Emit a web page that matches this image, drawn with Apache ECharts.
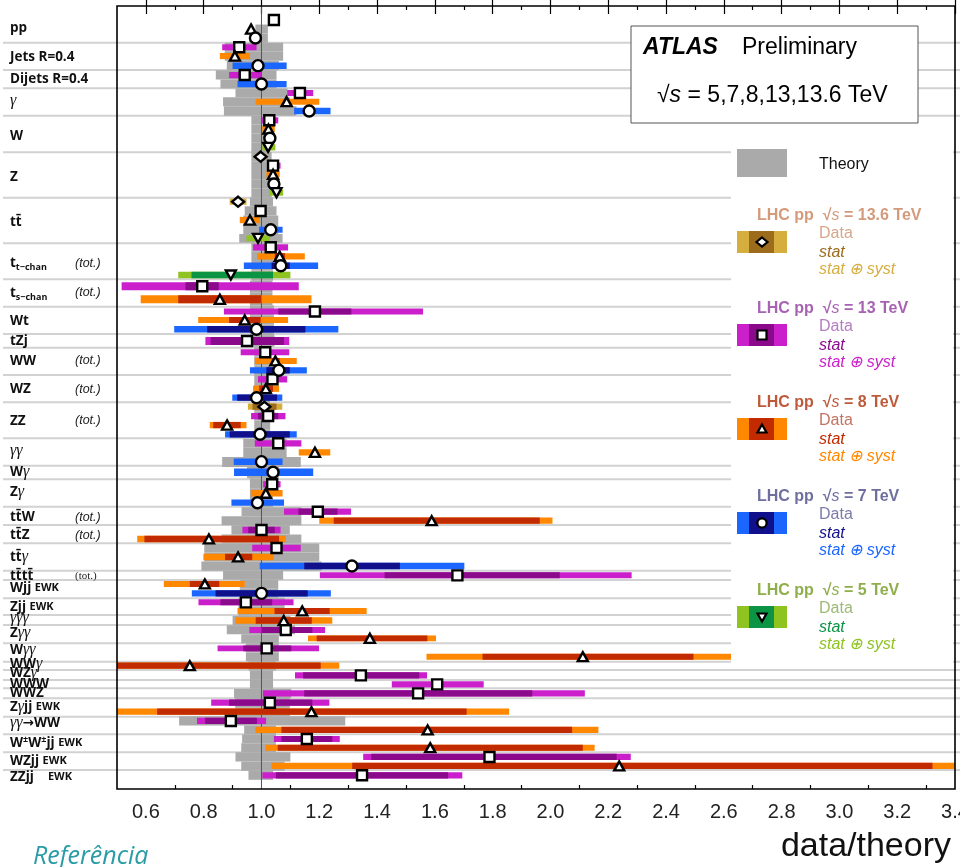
<!DOCTYPE html>
<html><head><meta charset="utf-8">
<script src="https://cdn.jsdelivr.net/npm/echarts@6/dist/echarts.min.js"></script>
<style>html,body{margin:0;padding:0;background:#fff}#c{width:960px;height:867px}</style>
</head><body><div id="c"></div>
<script>
// ---------------- DATA ----------------
const energies = ['13.6', '13', '8', '7', '5'];           // sqrt(s) in TeV
// row position (in row units, top = 0) of every measurement
const rowPos = [
  1.56, 2.56, 3.56, 4.59, 5.56, 6.63, 7.67, 8.67, 9.67, 10.63,
  11.67, 12.70, 13.67, 14.70, 15.70, 16.74, 17.74, 18.70, 19.78, 20.74,
  21.74, 22.78, 23.78, 24.86, 25.81, 26.81, 27.81, 28.86, 29.89, 31.14,
  32.59, 33.94, 34.89, 35.92, 37.22, 38.48, 39.44, 40.48, 41.48, 42.52,
  43.52, 44.52, 45.56, 46.56, 47.59, 48.59, 49.59, 50.63, 51.81, 53.14,
  54.14, 55.19, 56.19, 57.19, 58.22, 59.22, 60.22, 61.22, 62.22, 63.26,
  64.22, 65.26, 66.26, 67.22, 68.28, 69.33, 70.26, 71.37, 72.30, 73.30,
  74.37, 75.37, 76.37, 77.41, 78.41, 79.44, 80.44, 81.44, 82.41, 83.44,
  84.44, 85.48];
// index into energies
const rowEnergy = [
  1, 2, 3, 1, 2, 3, 1, 3, 1, 2,
  3, 1, 2, 3, 4, 0, 1, 2, 3, 4,
  0, 1, 2, 3, 4, 1, 2, 3, 4, 1,
  2, 1, 2, 3, 1, 1, 2, 3, 1, 2,
  3, 0, 1, 2, 3, 1, 2, 3, 3, 1,
  2, 3, 1, 2, 1, 2, 1, 2, 3, 1,
  2, 3, 1, 2, 2, 1, 2, 1, 2, 2,
  1, 1, 1, 1, 2, 1, 2, 1, 2, 1,
  2, 1];
// data / theory central values
const rowValue = [
  1.043, 0.964, 0.979, 0.923, 0.908, 0.988, 0.942, 1.000, 1.133, 1.087,
  1.165, 1.027, 1.024, 1.029, 1.023, 0.997, 1.040, 1.040, 1.043, 1.052,
  0.919, 0.997, 0.960, 1.032, 0.988, 1.032, 1.063, 1.067, 0.894, 0.795,
  0.856, 1.185, 0.942, 0.983, 0.950, 1.013, 1.048, 1.060, 1.038, 1.015,
  0.983, 1.010, 1.023, 0.881, 0.995, 1.058, 1.185, 1.000, 1.040, 1.037,
  1.015, 0.986, 1.195, 1.589, 1.000, 0.818, 1.052, 0.919, 1.313, 1.678,
  0.804, 1.000, 0.946, 1.141, 1.077, 1.084, 1.375, 1.018, 2.112, 0.752,
  1.344, 1.608, 1.542, 1.029, 1.173, 0.894, 1.575, 1.157, 1.584, 1.789,
  2.238, 1.348];
// stat (+) syst interval
const totLo = [
  null, null, null, 0.864, 0.856, 0.900, 0.888, 0.917, 1.089, 0.980,
  1.113, 1.000, 1.003, 1.012, 1.003, 0.977, 1.020, 1.017, 1.023, 1.027,
  0.890, 0.988, 0.925, 0.992, 0.948, 0.971, 0.985, 0.939, 0.712, 0.516,
  0.582, 0.870, 0.781, 0.698, 0.806, 0.928, 0.977, 0.960, 0.988, 0.971,
  0.899, 0.953, 0.964, 0.821, 0.874, 0.977, 1.129, 0.904, 0.905, 1.006,
  0.963, 0.896, 1.078, 1.200, 0.934, 0.570, 0.968, 0.799, 0.994, 1.202,
  0.662, 0.759, 0.782, 0.917, 0.910, 0.958, 1.161, 0.848, 1.571, 0.450,
  1.116, 1.451, 1.005, 0.826, 0.480, 0.777, 0.979, 1.043, 1.014, 1.352,
  1.035, 1.003];
const totHi = [
  null, null, null, 0.983, 0.960, 1.087, 1.000, 1.087, 1.179, 1.200,
  1.239, 1.058, 1.046, 1.046, 1.048, 1.017, 1.066, 1.063, 1.063, 1.075,
  0.948, 1.008, 0.994, 1.073, 1.029, 1.092, 1.150, 1.196, 1.100, 1.129,
  1.173, 1.559, 1.092, 1.266, 1.096, 1.096, 1.122, 1.157, 1.089, 1.061,
  1.072, 1.072, 1.083, 0.948, 1.122, 1.138, 1.238, 1.073, 1.179, 1.066,
  1.073, 1.078, 1.310, 2.007, 1.066, 1.084, 1.136, 1.042, 1.702, 2.281,
  0.942, 1.240, 1.111, 1.364, 1.245, 1.220, 1.604, 1.199, 2.634, 1.269,
  1.573, 1.769, 2.119, 1.235, 1.857, 1.016, 2.166, 1.271, 2.153, 2.278,
  3.450, 1.695];
// stat-only interval (null where not visible)
const statLo = [
  null, null, null, null, null, null, null, null, null, null,
  null, null, null, null, null, null, null, null, null, null,
  null, null, null, null, null, null, 1.046, 1.035, 0.758, 0.737,
  0.712, 1.058, 0.888, 0.812, 0.824, null, 1.035, 1.017, null, 0.992,
  0.916, 0.969, 0.988, 0.833, 0.890, null, null, null, null, null,
  null, null, 1.128, 1.250, 0.954, 0.595, null, 0.874, 1.148, 1.426,
  0.752, 0.841, 0.858, 1.045, 0.980, 1.000, 1.191, 0.937, 1.765, 0.450,
  1.144, null, 1.148, 0.888, 0.639, 0.805, 1.069, 1.069, 1.056, 1.380,
  1.314, 1.050];
const statHi = [
  null, null, null, null, null, null, null, null, null, null,
  null, null, null, null, null, null, null, null, null, null,
  null, null, null, null, null, null, 1.081, 1.098, 1.040, 0.852,
  1.000, 1.311, 0.997, 1.152, 1.078, null, 1.063, 1.098, null, 1.040,
  1.054, 1.052, 1.058, 0.928, 1.098, null, null, null, null, null,
  null, null, 1.263, 1.963, 1.046, 1.061, null, 0.968, 1.479, 2.032,
  0.854, 1.160, 1.037, 1.236, 1.174, 1.176, 1.574, 1.103, 2.495, 1.205,
  1.546, null, 1.937, 1.176, 1.710, 0.984, 2.075, 1.245, 2.112, 2.229,
  3.322, 1.646];
// theory uncertainty band
const theoryLo = [
  null, 0.979, 0.979, 0.873, 0.873, 0.880, 0.842, 0.858, 0.910, 0.867,
  0.870, 0.965, 0.965, 0.965, 0.965, 0.965, 0.965, 0.965, 0.965, 0.965,
  0.960, 0.942, 0.937, 0.937, 0.923, 0.965, 0.965, 0.965, 0.965, 0.960,
  0.960, 0.960, 0.960, 0.960, 0.955, 0.975, 0.975, 0.975, 0.975, 0.975,
  0.975, 0.975, 0.975, 0.975, 0.975, 0.937, 0.937, 0.864, 0.950, 0.960,
  0.960, 0.960, 0.931, 0.862, 0.896, 0.862, 0.802, 0.802, 0.792, 0.867,
  0.925, 0.925, 0.920, 0.920, 0.900, 0.880, 0.930, 0.946, 0.946, 0.955,
  0.960, 0.960, 0.905, 0.909, 0.909, 0.715, 0.940, 0.933, 0.930, 0.910,
  0.930, 0.955];
const theoryHi = [
  null, 1.022, 1.022, 1.075, 1.075, 1.060, 1.052, 1.052, 1.090, 1.098,
  1.121, 1.030, 1.030, 1.030, 1.030, 1.035, 1.035, 1.035, 1.035, 1.035,
  1.040, 1.052, 1.058, 1.058, 1.073, 1.040, 1.040, 1.040, 1.040, 1.038,
  1.038, 1.043, 1.043, 1.043, 1.045, 1.030, 1.030, 1.030, 1.030, 1.030,
  1.030, 1.030, 1.030, 1.030, 1.030, 1.087, 1.087, 1.136, 1.060, 1.040,
  1.040, 1.040, 1.138, 1.138, 1.098, 1.138, 1.200, 1.200, 1.208, 1.075,
  1.058, 1.058, 1.080, 1.080, 1.100, 1.116, 1.060, 1.060, 1.060, 1.050,
  1.040, 1.040, 1.103, 1.098, 1.098, 1.290, 1.050, 1.050, 1.050, 1.100,
  1.080, 1.040];
// process labels and their row positions
const groupLabels = [
  'pp', 'Jets R=0.4', 'Dijets R=0.4', '{g|γ}', 'W', 'Z', 'tt\u0304',
  't{sub|t\u2212chan}', 't{sub|s\u2212chan}', 'Wt', 'tZj', 'WW', 'WZ', 'ZZ',
  '{g|γγ}', 'W{g|γ}', 'Z{g|γ}', 'tt\u0304W', 'tt\u0304Z', 'tt\u0304{g|γ}', 'tt\u0304tt\u0304',
  'Wjj {s|EWK}', 'Zjj {s|EWK}', '{g|γγγ}', 'Z{g|γγ}', 'W{g|γγ}', 'WW{g|γ}', 'WZ{g|γ}',
  'WWW', 'WWZ', 'Z{g|γ}jj {s|EWK}', '{g|γγ}\u2192WW', 'W{sup|±}W{sup|±}jj {s|EWK}',
  'WZjj {s|EWK}', 'ZZjj    {s|EWK}'];
const labelPos = [
  2.44, 5.67, 8.11, 10.56, 14.44, 19.0, 24.0, 28.56, 31.89, 35.0,
  37.22, 39.44, 42.56, 46.11, 49.44, 51.78, 54.0, 56.78, 58.78, 61.22,
  63.33, 64.67, 66.78, 68.0, 69.67, 71.56, 73.11, 74.11, 75.33, 76.33,
  77.89, 79.67, 81.89, 83.89, 85.67];
const labelNote = [
  '', '', '', '', '', '', '', '(tot.)', '(tot.)', '', '', '(tot.)', '(tot.)', '(tot.)',
  '', '', '', '(tot.)', '(tot.)', '', '(tot.)', '', '', '', '', '', '', '', '', '', '', '', '', '', ''];
// horizontal separators between processes
const separatorPos = [
  4.08, 7.11, 9.14, 12.19, 16.26, 21.30, 26.37, 30.37, 33.41, 36.44,
  37.97, 41.00, 44.03, 48.03, 51.08, 52.59, 55.63, 57.67, 59.70, 62.74,
  63.78, 65.81, 67.67, 68.78, 70.81, 72.86, 73.78, 74.89, 75.81, 76.92,
  78.97, 80.92, 82.92, 84.89];
const majorTicks = [0.6, 0.8, 1.0, 1.2, 1.4, 1.6, 1.8, 2.0, 2.2, 2.4, 2.6, 2.8, 3.0, 3.2, 3.4];
const minorTicks = [0.7, 0.9, 1.1, 1.3, 1.5, 1.7, 1.9, 2.1, 2.3, 2.5, 2.7, 2.9, 3.1, 3.3];

// ---------------- STYLE ----------------
const X_MIN = 0.5, X_MAX = 3.4, Y_MAX = 87;
const GRID = {left: 117, top: 6, right: 5, bottom: 78};
const SANS = '"Liberation Sans", Arial, sans-serif';
const LBL = '"Open Sans", "DejaVu Sans", sans-serif';
const totColor  = ['#d6ae3e', '#cc1fcc', '#ff8800', '#1a66ff', '#8fc320'];
const statColor = ['#9c6b1b', '#8b0a8b', '#c22a00', '#10108c', '#0b9444'];
const titleColor = ['#d49a7c', '#a862b4', '#bd5a3c', '#6f6f9f', '#8fae4c'];
const dataTextColor = ['#d5a68a', '#b47cc2', '#c27462', '#7b7bab', '#9db975'];
const symbols = ['diamond', 'rect', 'triangle', 'circle', 'triangle'];
const symbolSizes = [[12, 10], 10, [10, 9], 11, [10, 9]];
const symbolRot = [0, 0, 0, 0, 180];
const N = rowPos.length;

function clipToGrid(shape, params) {
  const c = params.coordSys;
  return echarts.graphic.clipRectByRect(shape, {x: c.x, y: c.y, width: c.width, height: c.height});
}
function neighbourGap(i) {
  const up = i > 0 ? rowPos[i] - rowPos[i - 1] : 1;
  const dn = i < N - 1 ? rowPos[i + 1] - rowPos[i] : 1;
  return [up, dn];
}

const chart = echarts.init(document.getElementById('c'));

// theory bands
const theorySeries = {
  type: 'custom', z: 2, silent: true, xAxisIndex: 0,
  data: rowPos.map((p, i) => [i, p]).filter(d => theoryLo[d[0]] != null),
  renderItem(params, api) {
    const i = api.value(0);
    const g = neighbourGap(i);
    const up = Math.min(0.72, g[0] / 2), dn = Math.min(0.72, g[1] / 2);
    const a = api.coord([theoryLo[i], rowPos[i] - up]);
    const b = api.coord([theoryHi[i], rowPos[i] + dn]);
    const shape = clipToGrid({x: a[0], y: a[1], width: b[0] - a[0], height: b[1] - a[1]}, params);
    return shape && {type: 'rect', shape, style: {fill: '#aaaaaa'}};
  }
};
// error bars
const barSeries = {
  type: 'custom', z: 4, silent: true, xAxisIndex: 0,
  data: rowPos.map((p, i) => [i, p]).filter(d => totLo[d[0]] != null),
  renderItem(params, api) {
    const i = api.value(0);
    const g = neighbourGap(i);
    const h = Math.min(0.9, 0.7 * Math.min(g[0], g[1]));
    const k = rowEnergy[i];
    const children = [];
    const mk = (lo, hi, col) => {
      const a = api.coord([lo, rowPos[i] - h / 2]);
      const b = api.coord([hi, rowPos[i] + h / 2]);
      const s = clipToGrid({x: a[0], y: a[1], width: b[0] - a[0], height: b[1] - a[1]}, params);
      if (s) children.push({type: 'rect', shape: s, style: {fill: col}});
    };
    mk(totLo[i], totHi[i], totColor[k]);
    if (statLo[i] != null) mk(statLo[i], statHi[i], statColor[k]);
    return {type: 'group', children};
  }
};
// vertical line at 1
const unityLine = {
  type: 'custom', z: 3, silent: true, data: [[1]],
  renderItem(params, api) {
    const a = api.coord([1, 0]), b = api.coord([1, Y_MAX]);
    return {type: 'line', shape: {x1: a[0], y1: a[1], x2: b[0], y2: b[1]}, style: {stroke: '#555', lineWidth: 1}};
  }
};
// separators (run across label area too)
const sepSeries = {
  type: 'custom', z: 1, silent: true, clip: false,
  data: separatorPos.map(p => [1, p]),
  renderItem(params, api) {
    const y = api.coord([1, api.value(1)])[1];
    return {type: 'line', shape: {x1: 3, y1: y, x2: 960, y2: y}, style: {stroke: '#d2d2d2', lineWidth: 2}};
  }
};
// process labels
const richStyles = {
  g: {font: 'italic 16px "Liberation Serif", "DejaVu Serif", serif', fill: '#111'},
  sub: {font: 'bold 9px ' + LBL, fill: '#111', verticalAlign: 'bottom', lineHeight: 11},
  sup: {font: 'bold 9px ' + LBL, fill: '#111', verticalAlign: 'top', lineHeight: 11},
  s: {font: 'bold 11px ' + LBL, fill: '#111'}
};
const labelSeries = {
  type: 'custom', z: 5, silent: true, clip: false,
  data: labelPos.map((p, i) => [i, p]),
  renderItem(params, api) {
    const i = api.value(0);
    const y = api.coord([X_MIN, labelPos[i]])[1];
    const kids = [{
      type: 'text', x: 10, y,
      style: {text: groupLabels[i], rich: richStyles, font: 'bold 13.5px ' + LBL, fill: '#111',
              verticalAlign: 'middle', align: 'left', lineHeight: 17}
    }];
    if (labelNote[i]) {
      const roman = i === 20;
      kids.push({type: 'text', x: 75, y,
        style: {text: labelNote[i], font: roman ? '11px "Liberation Serif", serif' : 'italic 12.5px ' + SANS,
                fill: '#222', verticalAlign: 'middle'}});
    }
    return {type: 'group', children: kids};
  }
};
// markers
const markerSeries = energies.map((e, k) => ({
  type: 'scatter', name: e + ' TeV', z: 6, silent: true,
  symbol: symbols[k], symbolSize: symbolSizes[k], symbolRotate: symbolRot[k],
  itemStyle: {color: '#ffffff', borderColor: '#000', borderWidth: 2.4, opacity: 1},
  data: rowPos.map((p, i) => [rowValue[i], p, rowEnergy[i]]).filter(d => d[2] === k).map(d => [d[0], d[1]])
}));

// ---------------- LEGEND / TEXT GRAPHICS ----------------
const graphics = [];
graphics.push({type: 'rect', z: 90, shape: {x: 731, y: 140, width: 222, height: 527}, style: {fill: '#fff'}});
graphics.push({type: 'rect', z: 100, shape: {x: 737, y: 149, width: 50, height: 28}, style: {fill: '#aaaaaa'}});
graphics.push({type: 'text', z: 100, x: 819, y: 165, style: {text: 'Theory', font: '16px ' + SANS, fill: '#111', verticalAlign: 'middle'}});
function legendMarker(k, cx, cy) {
  const st = {fill: '#fff', stroke: '#000', lineWidth: 2.2};
  if (k === 0) return {type: 'polygon', z: 101, shape: {points: [[cx, cy - 4.5], [cx + 5.5, cy], [cx, cy + 4.5], [cx - 5.5, cy]]}, style: st};
  if (k === 1) return {type: 'rect', z: 101, shape: {x: cx - 4.5, y: cy - 4.5, width: 9, height: 9}, style: st};
  if (k === 2) return {type: 'polygon', z: 101, shape: {points: [[cx, cy - 4.5], [cx + 4.5, cy + 3.5], [cx - 4.5, cy + 3.5]]}, style: st};
  if (k === 3) return {type: 'circle', z: 101, shape: {cx, cy, r: 4.6}, style: st};
  return {type: 'polygon', z: 101, shape: {points: [[cx, cy + 4.5], [cx + 4.5, cy - 3.5], [cx - 4.5, cy - 3.5]]}, style: st};
}
const blockTop = [216, 309, 403, 497, 591];
energies.forEach((e, k) => {
  const t = blockTop[k];
  graphics.push({type: 'text', z: 100, x: 757, y: t, style: {
    text: '{b|LHC pp  \u221A}{i|s}{b| = ' + e + ' TeV}',
    rich: {b: {font: 'bold 16px ' + SANS, fill: titleColor[k]}, i: {font: 'italic 16px ' + SANS, fill: titleColor[k]}},
    verticalAlign: 'middle'}});
  graphics.push({type: 'rect', z: 100, shape: {x: 737, y: t + 15, width: 50, height: 22}, style: {fill: totColor[k]}});
  graphics.push({type: 'rect', z: 100, shape: {x: 749, y: t + 15, width: 25, height: 22}, style: {fill: statColor[k]}});
  graphics.push(legendMarker(k, 762, t + 26));
  graphics.push({type: 'text', z: 100, x: 819, y: t + 18, style: {text: 'Data', font: '16px ' + SANS, fill: dataTextColor[k], verticalAlign: 'middle'}});
  graphics.push({type: 'text', z: 100, x: 819, y: t + 37, style: {text: 'stat', font: 'italic 16px ' + SANS, fill: statColor[k], verticalAlign: 'middle'}});
  graphics.push({type: 'text', z: 100, x: 819, y: t + 54, style: {text: 'stat \u2295 syst', font: 'italic 16px ' + SANS, fill: totColor[k], verticalAlign: 'middle'}});
});
// ATLAS box
graphics.push({type: 'rect', z: 100, shape: {x: 631, y: 26, width: 287, height: 97}, style: {fill: '#fff', stroke: '#555', lineWidth: 1}});
graphics.push({type: 'text', z: 101, x: 643, y: 48, style: {text: 'ATLAS', font: 'italic bold 23px ' + SANS, fill: '#000', verticalAlign: 'middle'}});
graphics.push({type: 'text', z: 101, x: 742, y: 48, style: {text: 'Preliminary', font: '23px ' + SANS, fill: '#000', verticalAlign: 'middle'}});
graphics.push({type: 'text', z: 101, x: 657, y: 96, style: {
  text: '{r|\u221A}{i|s}{r| = 5,7,8,13,13.6 TeV}',
  rich: {r: {font: '23px ' + SANS, fill: '#000'}, i: {font: 'italic 23px ' + SANS, fill: '#000'}},
  verticalAlign: 'middle'}});
// frame
graphics.push({type: 'rect', z: 120, shape: {x: GRID.left, y: GRID.top, width: 960 - GRID.left - GRID.right, height: 867 - GRID.top - GRID.bottom},
  style: {fill: 'none', stroke: '#000', lineWidth: 1.6}});
// axis title and caption
graphics.push({type: 'text', z: 100, x: 951, y: 847, style: {text: 'data/theory', font: '34px ' + SANS, fill: '#111', align: 'right', verticalAlign: 'middle'}});
graphics.push({type: 'text', z: 100, x: 33, y: 857, style: {text: 'Referência', font: 'italic 25px "Open Sans", "Noto Sans", sans-serif', fill: '#2a9ca6', verticalAlign: 'middle'}});

function xAx(pos, ticks, len, labels) {
  return {
    type: 'value', position: pos, min: X_MIN, max: X_MAX,
    axisLine: {show: false}, splitLine: {show: false},
    axisTick: {show: true, inside: true, length: len, customValues: ticks, lineStyle: {color: '#000', width: 1.2}},
    axisLabel: labels ? {show: true, customValues: ticks, formatter: v => v.toFixed(1), fontSize: 20, fontFamily: SANS, color: '#222', margin: 13, hideOverlap: false}
                      : {show: false}
  };
}

chart.setOption({
  animation: false,
  backgroundColor: '#fff',
  grid: {left: GRID.left, top: GRID.top, right: GRID.right, bottom: GRID.bottom, show: false,
         containLabel: false, outerBoundsMode: 'none'},
  xAxis: [xAx('bottom', majorTicks, 8, true), xAx('bottom', minorTicks, 4, false), xAx('top', majorTicks, 8, false), xAx('top', minorTicks, 4, false)],
  yAxis: {type: 'value', inverse: true, min: 0, max: Y_MAX, show: false},
  series: [sepSeries, theorySeries, unityLine, barSeries, labelSeries].concat(markerSeries),
  graphic: graphics
});
</script>
</body></html>
